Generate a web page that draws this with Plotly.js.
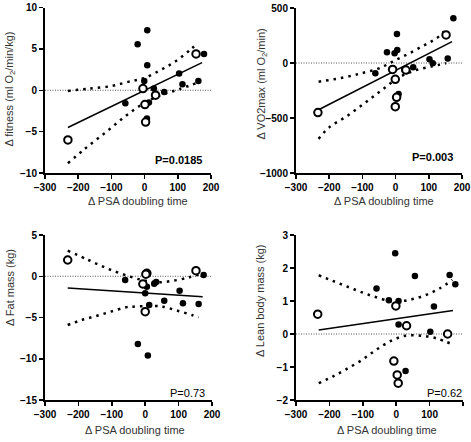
<!DOCTYPE html>
<html>
<head>
<meta charset="utf-8">
<script src="https://cdn.plot.ly/plotly-3.0.1.min.js"></script>
<style>html,body{margin:0;padding:0;background:#fff;}#chart{width:471px;height:442px;}</style>
</head>
<body>
<div id="chart"></div>
<script>
// ---- Panel 1: fitness ----
const p1FilledX = [-58, -21, -1, 8, 8, 13, 7, 28, 59, 104, 114, 162, 179];
const p1FilledY = [-1.57, 5.56, 1.13, 7.25, 3.02, -1.49, -3.42, 0.2, -0.2, 2.01, 0.72, 1.13, 4.39];
const p1OpenX = [-231, -5, 1, 33, 3, 155];
const p1OpenY = [-6.0, 0.2, -1.73, -0.6, -3.85, 4.39];
const p1FitX = [-231, 173];
const p1FitY = [-4.51, 3.34];
const p1UpX = [-231, -165, -98, -58, -27, 3, 43, 79, 109, 139, 160];
const p1UpY = [-0.08, 0.2, 0.52, 0.93, 1.21, 1.53, 2.33, 3.14, 3.95, 4.95, 5.68];
const p1LoX = [-231, -179, -118, -63, -7, 48, 104, 160];
const p1LoY = [-8.82, -7.05, -5.11, -3.30, -1.69, -0.60, 0.12, 0.93];

// ---- Panel 2: VO2max ----
const p2FilledX = [174, 4, -26, -3, 5, -61, 26, 53, 102, 112, 157, 9];
const p2FilledY = [406, 264, 97, 88, 118, -94, -58, -39, 33, -3, 42, -282];
const p2OpenX = [-234, -9, 31, -1, 3, -1, 152];
const p2OpenY = [-451, -58, -64, -148, -312, -397, 255];
const p2FitX = [-232, 170];
const p2FitY = [-425, 194];
const p2UpX = [-232, -164, -104, -59, -34, -9, 21, 51, 82, 107, 132, 154];
const p2UpY = [-170, -136, -94, -58, -27, 12, 58, 103, 155, 194, 245, 315];
const p2LoX = [-232, -200, -149, -94, -44, 6, 56, 107, 152];
const p2LoY = [-690, -585, -488, -367, -252, -139, -70, -33, -3];

// ---- Panel 3: Fat mass ----
const p3FilledX = [-60, 27, 33, 175, 0, 5, 103, 57, 113, 160, 12, -22, 8];
const p3FilledY = [-0.46, -0.9, -0.7, 0.15, -2.07, -1.27, -1.75, -2.97, -3.28, -3.37, -3.49, -8.21, -9.6];
const p3OpenX = [-232, 5, 2, -7, 0, 152];
const p3OpenY = [1.97, 0.35, 0.25, -0.94, -4.29, 0.68];
const p3FitX = [-232, 172];
const p3FitY = [-1.42, -2.48];
const p3UpX = [-232, -170, -107, -45, 0, 45, 90, 132, 160];
const p3UpY = [3.1, 1.97, 0.84, -0.05, -0.55, -0.72, -0.5, -0.13, 0.2];
const p3LoX = [-232, -190, -147, -103, -58, -35, 30, 53, 97, 140, 160];
const p3LoY = [-5.91, -5.30, -4.82, -4.29, -3.77, -3.69, -3.6, -3.69, -4.18, -4.7, -4.98];

// ---- Panel 4: Lean body mass ----
const p4FilledX = [-3, 56, 160, 177, -59, -22, 7, 113, 7, 102, 28];
const p4FilledY = [2.45, 1.76, 1.79, 1.51, 1.38, 1.02, 1.0, 0.83, 0.29, 0.07, -1.12];
const p4OpenX = [-235, -1, 31, 154, -7, 3, 6];
const p4OpenY = [0.6, 0.85, 0.25, 0.0, -0.82, -1.24, -1.49];
const p4FitX = [-232, 170];
const p4FitY = [0.12, 0.71];
const p4UpX = [-232, -190, -150, -107, -65, -20, 0, 42, 88, 130, 168];
const p4UpY = [1.78, 1.61, 1.45, 1.28, 1.13, 1.0, 0.98, 1.04, 1.18, 1.38, 1.64];
const p4LoX = [-232, -190, -150, -103, -60, -16, 28, 74, 120, 167];
const p4LoY = [-1.49, -1.29, -1.07, -0.79, -0.48, -0.21, -0.05, -0.05, -0.13, -0.31];

// ---- texts & ticks ----
const xTickVals = [-300, -200, -100, 0, 100, 200];
const xTitle = "Δ PSA doubling time";
const yTitles = ["Δ fitness (ml O<sub>2</sub>/min/kg)", "Δ VO2max (ml O<sub>2</sub>/min)", "Δ Fat mass (kg)", "Δ Lean body mass (kg)"];
const yRanges = [[-10, 10], [-1000, 500], [-15, 5], [-2, 3]];
const yTickVals = [[-10, -5, 0, 5, 10], [-1000, -500, 0, 500], [-15, -10, -5, 0, 5], [-2, -1, 0, 1, 2, 3]];
const pTexts = ["P=0.0185", "P=0.003", "P=0.73", "P=0.62"];
const pBold = [true, true, false, false];

const panels = [
  {fx: p1FilledX, fy: p1FilledY, ox: p1OpenX, oy: p1OpenY, lx: p1FitX, ly: p1FitY, ux: p1UpX, uy: p1UpY, dx: p1LoX, dy: p1LoY},
  {fx: p2FilledX, fy: p2FilledY, ox: p2OpenX, oy: p2OpenY, lx: p2FitX, ly: p2FitY, ux: p2UpX, uy: p2UpY, dx: p2LoX, dy: p2LoY},
  {fx: p3FilledX, fy: p3FilledY, ox: p3OpenX, oy: p3OpenY, lx: p3FitX, ly: p3FitY, ux: p3UpX, uy: p3UpY, dx: p3LoX, dy: p3LoY},
  {fx: p4FilledX, fy: p4FilledY, ox: p4OpenX, oy: p4OpenY, lx: p4FitX, ly: p4FitY, ux: p4UpX, uy: p4UpY, dx: p4LoX, dy: p4LoY}
];

const W = 471, H = 442;
// pixel boxes of plot areas [x0, x1, yTop, yBottom]
const boxes = [[45, 211, 7.5, 173], [296, 462, 8, 173], [45, 212, 235, 400], [296, 463, 235, 400]];
const pPos = [[0.807, 0.079], [0.825, 0.097], [0.856, 0.042], [0.892, 0.042]];
// title centre positions in pixels
const yTitlePos = [[9.5, 89], [261.5, 84], [10, 288], [260, 301]];
const xTitlePos = [[138, 201], [384, 201], [135, 430], [387, 430]];

const FONT = "Liberation Sans, Arial, sans-serif";
const traces = [];
const layout = {
  width: W, height: H,
  margin: {l: 0, r: 0, t: 0, b: 0},
  paper_bgcolor: "#fff", plot_bgcolor: "#fff",
  showlegend: false,
  shapes: [], annotations: []
};

panels.forEach((p, i) => {
  const n = i + 1;
  const xa = "x" + (n === 1 ? "" : n), ya = "y" + (n === 1 ? "" : n);
  const b = boxes[i];
  layout["xaxis" + (n === 1 ? "" : n)] = {
    domain: [b[0] / W, b[1] / W], anchor: ya, range: [-300, 200],
    tickvals: xTickVals, ticks: "outside", ticklen: 4, tickwidth: 1.5, tickcolor: "#000",
    showline: true, linewidth: 2, linecolor: "#000", showgrid: false, zeroline: false,
    tickfont: {family: FONT, size: 10, weight: "bold", color: "#000"}
  };
  layout["yaxis" + (n === 1 ? "" : n)] = {
    domain: [1 - b[3] / H, 1 - b[2] / H], anchor: xa, range: yRanges[i],
    tickvals: yTickVals[i], ticks: "outside", ticklen: 4, tickwidth: 1.5, tickcolor: "#000",
    showline: true, linewidth: 2, linecolor: "#000", showgrid: false, zeroline: false,
    tickfont: {family: FONT, size: 10, weight: "bold", color: "#000"}
  };
  layout.shapes.push({type: "line", xref: xa, yref: ya, x0: -300, x1: 200, y0: 0, y1: 0,
    line: {color: "#555", width: 1, dash: "1px,1.5px"}, layer: "below"});
  layout.annotations.push({xref: xa + " domain", yref: ya + " domain", x: pPos[i][0], y: pPos[i][1],
    text: pTexts[i], showarrow: false, xanchor: "center", yanchor: "middle",
    font: {family: FONT, size: 11, color: "#000", weight: pBold[i] ? "bold" : "normal"}});
  layout.annotations.push({xref: "paper", yref: "paper", x: yTitlePos[i][0] / W, y: 1 - yTitlePos[i][1] / H,
    text: yTitles[i], textangle: -90, showarrow: false, xanchor: "center", yanchor: "middle",
    font: {family: FONT, size: 11, color: "#333"}});
  layout.annotations.push({xref: "paper", yref: "paper", x: xTitlePos[i][0] / W, y: 1 - xTitlePos[i][1] / H,
    text: xTitle, showarrow: false, xanchor: "center", yanchor: "middle",
    font: {family: FONT, size: 11, color: "#333"}});

  const dotLine = {color: "#000", width: 2.5, dash: "2.5px,5px", shape: "spline"};
  traces.push({x: p.ux, y: p.uy, xaxis: xa, yaxis: ya, mode: "lines", line: dotLine, hoverinfo: "skip"});
  traces.push({x: p.dx, y: p.dy, xaxis: xa, yaxis: ya, mode: "lines", line: dotLine, hoverinfo: "skip"});
  traces.push({x: p.lx, y: p.ly, xaxis: xa, yaxis: ya, mode: "lines", line: {color: "#000", width: 1.6}});
  traces.push({x: p.fx, y: p.fy, xaxis: xa, yaxis: ya, mode: "markers",
    marker: {size: 6.5, color: "#000", line: {width: 0}}});
  traces.push({x: p.ox, y: p.oy, xaxis: xa, yaxis: ya, mode: "markers",
    marker: {size: 7.5, color: "#fff", line: {color: "#000", width: 2}}});
});

Plotly.newPlot("chart", traces, layout, {staticPlot: true, displayModeBar: false});
</script>
</body>
</html>
